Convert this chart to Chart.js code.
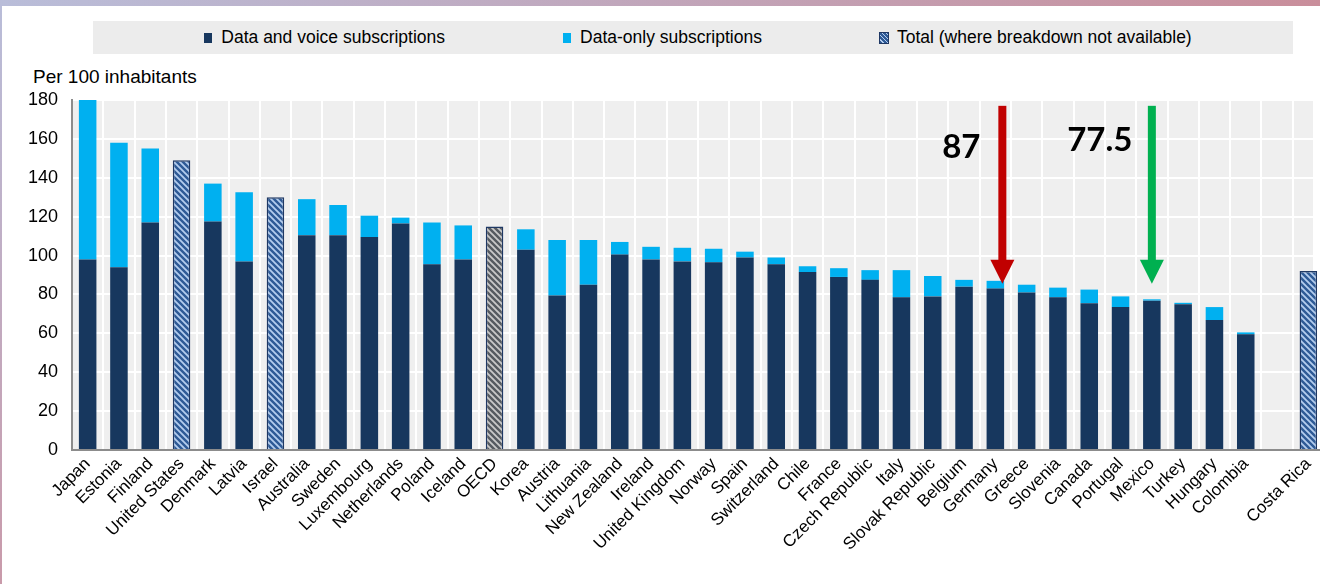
<!DOCTYPE html>
<html>
<head>
<meta charset="utf-8">
<script src="https://cdn.jsdelivr.net/npm/chart.js@4/dist/chart.umd.min.js"></script>
<style>
  body { margin: 0; background: #fff; font-family: "Liberation Sans", Arial, sans-serif; overflow: hidden; }
  #wrap { position: relative; width: 1320px; height: 584px; overflow: hidden; }
  #topband { position: absolute; left: 0; top: 0; width: 1320px; height: 6px; background: linear-gradient(to right, #b9bdd9, #c98e9b); z-index: 2; }
  #leftband { position: absolute; left: 0; top: 0; width: 2px; height: 584px; background: linear-gradient(to bottom, #b9bdd9, #c99aaa); z-index: 2; }
  #legend { position: absolute; left: 93px; top: 21px; width: 1190px; padding-left: 10px; height: 33px; background: #ececec;
            display: flex; justify-content: center; align-items: center; gap: 118px; font-size: 17.5px; color: #000; }
  #legend .item { display: flex; align-items: center; }
  #legend .box { width: 8px; height: 10px; margin-right: 9px; }
  #unit { position: absolute; left: 33px; top: 66px; font-size: 19px; color: #000; }
  canvas { position: absolute; left: 0; top: 0; }
</style>
</head>
<body>
<div id="wrap">
  <div id="topband"></div>
  <div id="leftband"></div>
  <div id="legend"></div>
  <div id="unit">Per 100 inhabitants</div>
  <canvas id="chart" width="1330" height="584"></canvas>
</div>
<script>
const countries = ["Japan", "Estonia", "Finland", "United States", "Denmark", "Latvia", "Israel", "Australia",
    "Sweden", "Luxembourg", "Netherlands", "Poland", "Iceland", "OECD", "Korea", "Austria", "Lithuania",
    "New Zealand", "Ireland", "United Kingdom", "Norway", "Spain", "Switzerland", "Chile", "France",
    "Czech Republic", "Italy", "Slovak Republic", "Belgium", "Germany", "Greece", "Slovenia", "Canada",
    "Portugal", "Mexico", "Turkey", "Hungary", "Colombia", "", "Costa Rica"];

const dataAndVoice = [98, 94, 117, null, 117.5, 97, null, 110.5,
    110.5, 109.5, 116.5, 95.5, 98, null, 103, 79.5, 85,
    100.5, 98, 97, 96.5, 99, 95.5, 91.5, 89,
    87.5, 78.5, 79, 84, 83, 81, 78.5, 75.5,
    73.5, 76.8, 75, 66.8, 59.5, null, null];

const dataOnly = [82, 64, 38, null, 19.5, 35.5, null, 18.5,
    15.5, 11, 3, 21.5, 17.5, null, 10.5, 28.5, 23,
    6.5, 6.5, 7, 7, 3, 3.5, 3, 4.5,
    5, 14, 10.5, 3.5, 4, 4, 5, 7,
    5.5, 0.7, 0.7, 6.7, 1, null, null];

const totalOnly = [null, null, null, 149, null, null, 130, null,
    null, null, null, null, null, 115, null, null, null,
    null, null, null, null, null, null, null, null,
    null, null, null, null, null, null, null, null,
    null, null, null, null, null, null, 92];

const seriesNames = ["Data and voice subscriptions", "Data-only subscriptions", "Total (where breakdown not available)"];
const yTicks = [0, 20, 40, 60, 80, 100, 120, 140, 160, 180];

// arrows with their labels
const markCountries = ["Germany", "Mexico"];
const markLabels = ["87", "77.5"];
const markColors = ["#c00000", "#00b050"];

const navy = "#17375e";
const cyan = "#00b0f0";

function makeHatch(bg, fg) {
    let c = document.createElement("canvas");
    c.width = 6;
    c.height = 6;
    let g = c.getContext("2d");
    g.fillStyle = bg;
    g.fillRect(0, 0, 6, 6);
    g.strokeStyle = fg;
    g.lineWidth = 1.8;
    g.beginPath();
    g.moveTo(-1, -1); g.lineTo(7, 7);
    g.moveTo(-4, 2); g.lineTo(4, 10);
    g.moveTo(2, -4); g.lineTo(10, 4);
    g.stroke();
    return g.createPattern(c, "repeat");
}

const blueHatch = makeHatch("#2e5a96", "#b4cdee");
const greyHatch = makeHatch("#555a60", "#c9c9c9");
const oecdIndex = countries.indexOf("OECD");

// legend
let legend = document.getElementById("legend");
let swatches = [navy, cyan, null];
seriesNames.forEach((name, i) => {
    let item = document.createElement("div");
    item.className = "item";
    let box = document.createElement("span");
    box.className = "box";
    if (swatches[i]) {
        box.style.background = swatches[i];
    } else {
        box.style.background = "repeating-linear-gradient(45deg, #2e5a96 0 2px, #b4cdee 2px 3px)";
        box.style.outline = "1px solid #1f3864";
    }
    let txt = document.createElement("span");
    txt.textContent = name;
    item.appendChild(box);
    item.appendChild(txt);
    legend.appendChild(item);
});

const plotBackground = {
    id: "plotBackground",
    beforeDraw(chart) {
        let a = chart.chartArea;
        let c = chart.ctx;
        c.save();
        c.fillStyle = "#efefef";
        c.fillRect(a.left, a.top, Math.min(a.right, 1313) - a.left, a.bottom - a.top);
        c.restore();
    }
};

const arrows = {
    id: "arrows",
    afterDatasetsDraw(chart) {
        let c = chart.ctx;
        let xs = chart.scales.x;
        let ys = chart.scales.y;
        let offsets = [7, 0];
        let textOffsets = [-34, -52];
        let textValues = [155.5, 159.5];
        markCountries.forEach((name, i) => {
            let x = xs.getPixelForValue(countries.indexOf(name)) + offsets[i];
            let yTop = ys.getPixelForValue(177);
            let yTip = ys.getPixelForValue(85.5);
            let headLen = 24;
            let headHalf = 12;
            let shaftHalf = 4;
            c.save();
            c.fillStyle = markColors[i];
            c.fillRect(x - shaftHalf, yTop, shaftHalf * 2, yTip - headLen - yTop + 1);
            c.beginPath();
            c.moveTo(x - headHalf, yTip - headLen);
            c.lineTo(x + headHalf, yTip - headLen);
            c.lineTo(x, yTip);
            c.closePath();
            c.fill();
            c.fillStyle = "#000";
            c.font = "bold 33px Lato";
            c.textAlign = "center";
            c.textBaseline = "middle";
            c.fillText(markLabels[i], xs.getPixelForValue(countries.indexOf(name)) + textOffsets[i], ys.getPixelForValue(textValues[i]));
            c.restore();
        });
    }
};

new Chart(document.getElementById("chart").getContext("2d"), {
    type: "bar",
    data: {
        labels: countries,
        datasets: [{
            label: seriesNames[0],
            data: dataAndVoice,
            backgroundColor: navy
        }, {
            label: seriesNames[1],
            data: dataOnly,
            backgroundColor: cyan
        }, {
            label: seriesNames[2],
            data: totalOnly,
            backgroundColor: ctx => ctx.dataIndex === oecdIndex ? greyHatch : blueHatch,
            borderColor: "#1f3864",
            borderWidth: 1.5
        }]
    },
    options: {
        responsive: false,
        animation: false,
        layout: { padding: { top: 100, right: 6, left: 0, bottom: 0 } },
        plugins: {
            legend: { display: false },
            tooltip: { enabled: false }
        },
        datasets: { bar: { barPercentage: 0.56, categoryPercentage: 1 } },
        scales: {
            x: {
                stacked: true,
                grid: { color: "#ffffff", lineWidth: 2, drawTicks: false, offset: true },
                border: { color: "#8c8c8c", width: 2 },
                ticks: {
                    autoSkip: false,
                    maxRotation: 45,
                    minRotation: 45,
                    color: "#000",
                    padding: 4,
                    font: { family: "'Liberation Sans', Arial, sans-serif", size: 17 }
                },
                afterFit: s => { s.height = 134; }
            },
            y: {
                stacked: true,
                min: 0,
                max: 180,
                afterBuildTicks: s => { s.ticks = yTicks.map(v => ({ value: v })); },
                grid: { color: "#ffffff", lineWidth: 2, drawTicks: false },
                border: { color: "#8c8c8c", width: 2 },
                ticks: {
                    color: "#000",
                    padding: 14,
                    font: { family: "'Liberation Sans', Arial, sans-serif", size: 18 }
                },
                afterFit: s => { s.width = 72; }
            }
        }
    },
    plugins: [plotBackground, arrows]
});
</script>
</body>
</html>
